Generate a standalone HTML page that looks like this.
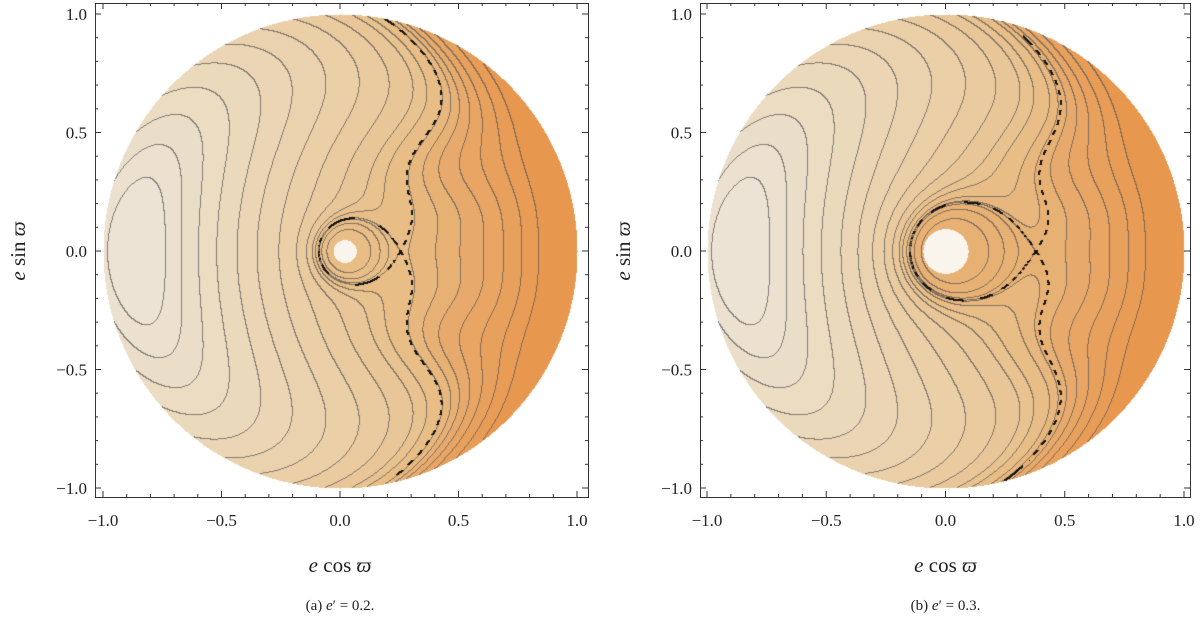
<!DOCTYPE html>
<html><head><meta charset="utf-8"><style>
body{margin:0;background:#fff;}
#wrap{position:relative;width:1200px;height:618px;overflow:hidden;}
canvas,svg{position:absolute;left:0;top:0;}
text{font-family:"Liberation Serif",serif;fill:#222;}
</style></head><body>
<div id="wrap">
<canvas id="cv" width="1200" height="618"></canvas>
<svg id="sv" width="1200" height="618"></svg>
</div>
<script>
// ---- data ----
const panelNames = ["panel-a", "panel-b"];
const captions = ["(a) e\u2032 = 0.2.", "(b) e\u2032 = 0.3."];
const ringAlpha = [0.9, 0.9];
const ringBeta = [1.0, 1.0];
const ringR0 = [0.7, 0.7];
const bumpAmp = [0.65, 0.7];
const bumpX = [0.02, 0.0];
const bumpS = [0.12, 0.2];
const waveAmp = [30, 26];
const waveX = [0.42, 0.48];
const coreFrac = [0.85, 0.8];
const levels = [-0.66, -0.6, -0.52, -0.42, -0.3, -0.18, -0.05, 0.08, 0.2, 0.3, 0.36, 0.43, 0.47, 0.51, 0.56, 0.62, 0.7, 0.8];
const islandRings = [0.02, 0.08, 0.2];
const tickVals = [-1.0, -0.5, 0.0, 0.5, 1.0];
const tickLabels = ["\u22121.0", "\u22120.5", "0.0", "0.5", "1.0"];

// ---- layout (not data) ----
const geo = [
  {cx:340, cy:251, ux:237, uy:237, fx0:95, fx1:588, fy0:3, fy1:497},
  {cx:945.5, cy:251, ux:238.5, uy:237, fx0:700, fx1:1190, fy0:3, fy1:497}
];
const stops = [[236,227,212],[235,218,190],[234,206,166],[232,190,136],[232,168,104],[232,151,79]];
function palette(t){
  t=Math.max(0,Math.min(1,t));const f=t*(stops.length-1);const i=Math.min(stops.length-2,Math.floor(f));const u=f-i;
  return stops[i].map((v,k)=>v+(stops[i+1][k]-v)*u);
}
function makeH(p){
  const a=ringAlpha[p],b=ringBeta[p],R2=ringR0[p]*ringR0[p],A=bumpAmp[p],xc=bumpX[p],s2=bumpS[p]*bumpS[p];
  const wa=waveAmp[p],wx=waveX[p];
  return {
    H:(x,y)=>{const r2=x*x+y*y;const y2=y*y;return a*x+b*(r2-R2)*(r2-R2)+A*Math.exp(-((x-xc)*(x-xc)+y2)/s2)
      +wa*y2*y2*Math.exp(-y2/0.08)*Math.exp(-(x-wx)*(x-wx)/0.15);},
    G:(x,y)=>Math.exp(-((x-xc)*(x-xc)+y*y)/s2)
  };
}
const cv=document.getElementById('cv');const ctx=cv.getContext('2d');
ctx.fillStyle='#fff';ctx.fillRect(0,0,1200,618);
const img=ctx.getImageData(0,0,1200,618);const D=img.data;
function bandOf(h){let i=0;while(i<levels.length&&h>levels[i])i++;return i;}
for(let p=0;p<2;p++){
  const g=geo[p];const f=makeH(p);
  let xs=0.5,Hs=0;let prev=null;
  for(let x=bumpX[p]+0.01;x<0.9;x+=0.001){const d=f.H(x+0.0005,0)-f.H(x-0.0005,0);if(prev!==null&&prev<0&&d>=0){xs=x;break;}prev=d;}
  Hs=f.H(xs,0);
  const W=g.fx1-g.fx0,Hh=g.fy1-g.fy0;
  const band=new Int16Array(W*Hh),sgn=new Int8Array(W*Hh),isl=new Int8Array(W*Hh),ins=new Uint8Array(W*Hh);
  for(let j=0;j<Hh;j++)for(let i=0;i<W;i++){
    const px=g.fx0+i,py=g.fy0+j;const x=(px-g.cx)/g.ux,y=(g.cy-py)/g.uy;const k=j*W+i;
    if(x*x+y*y>1){ins[k]=0;continue;}ins[k]=1;
    const h=f.H(x,y);sgn[k]=h>Hs?1:-1;
    const inIsl=h>Hs&&x<xs&&f.G(x,y)>0.005;isl[k]=inIsl?1:0;
    let bi=bandOf(inIsl?Math.min(h,Hs):h);
    if(inIsl){let r=0;for(const o of islandRings)if(h>Hs+o)r++;bi=100+r;}
    band[k]=bi;
  }
  const nb=levels.length;
  for(let j=0;j<Hh;j++)for(let i=0;i<W;i++){
    const k=j*W+i;if(!ins[k])continue;
    const px=g.fx0+i,py=g.fy0+j;const x=(px-g.cx)/g.ux,y=(g.cy-py)/g.uy;
    let c;
    if(isl[k]){c=palette(bandOf(Hs-1e-6)/nb);if(f.G(x,y)>coreFrac[p])c=[250,245,236];}
    else c=palette(band[k]/nb);
    let line=false;
    if(i+1<W&&ins[k+1]&&band[k+1]!==band[k])line=true;
    if(j+1<Hh&&ins[k+W]&&band[k+W]!==band[k])line=true;
    if(line)c=c.map(v=>v*0.3+85*0.7);
    let sep=false;
    const nbrs=[1,W,W+1,W-1,-1,-W];
    for(const o of nbrs){const q=k+o;if(q>=0&&q<W*Hh&&ins[q]&&sgn[q]!==sgn[k]){sep=true;break;}}
    if(sep){
      let t;
      if(x<xs-0.03){const ang=Math.atan2(y/(bumpS[p]*0.9),(x-bumpX[p]));t=Math.floor(ang*bumpS[p]*g.ux*1.6/5);}
      else t=Math.floor(py/5);
      if(((t%2)+2)%2===0)c=[20,20,20];
    }
    const o4=(py*1200+px)*4;D[o4]=c[0];D[o4+1]=c[1];D[o4+2]=c[2];D[o4+3]=255;
  }
}
ctx.putImageData(img,0,0);

// ---- axes ----
const sv=document.getElementById('sv');const NS='http://www.w3.org/2000/svg';
function el(t,a,parent){const e=document.createElementNS(NS,t);for(const k in a)e.setAttribute(k,a[k]);(parent||sv).appendChild(e);return e;}
for(let p=0;p<2;p++){
  const g=geo[p];
  const grp=el('g',{});
  
  
  const fr=el('rect',{x:g.fx0+0.5,y:g.fy0+0.5,width:g.fx1-g.fx0,height:g.fy1-g.fy0,fill:'none',stroke:'#333','stroke-width':1},grp);
  
  for(let m=-10;m<=10;m++){
    const v=m/10;const major=(m%5===0);const L=major?6:3;
    const X=g.cx+v*g.ux, Y=g.cy-v*g.uy;
    el('line',{x1:X,y1:g.fy1,x2:X,y2:g.fy1-L,stroke:'#333'},grp);
    el('line',{x1:X,y1:g.fy0,x2:X,y2:g.fy0+L,stroke:'#333'},grp);
    el('line',{x1:g.fx0,y1:Y,x2:g.fx0+L,y2:Y,stroke:'#333'},grp);
    el('line',{x1:g.fx1,y1:Y,x2:g.fx1-L,y2:Y,stroke:'#333'},grp);
  }
  tickVals.forEach((v,i)=>{
    const tx=el('text',{x:g.cx+v*g.ux,y:526,'text-anchor':'middle','font-size':17},grp);tx.textContent=tickLabels[i];
    
    const ty=el('text',{x:g.fx0-8,y:g.cy-v*g.uy+6,'text-anchor':'end','font-size':17},grp);ty.textContent=tickLabels[i];
    
  });
  const xt=el('text',{x:g.cx,y:572,'text-anchor':'middle','font-size':21},grp);
  xt.innerHTML='<tspan font-style="italic">e</tspan> cos <tspan font-style="italic">\u03D6</tspan>';
  
  const yx=g.fx0-70;
  const yt=el('text',{x:yx,y:g.cy,'text-anchor':'middle','font-size':21,transform:'rotate(-90 '+yx+' '+g.cy+')'},grp);
  yt.innerHTML='<tspan font-style="italic">e</tspan> sin <tspan font-style="italic">\u03D6</tspan>';
  
  const cp=el('text',{x:g.cx,y:610,'text-anchor':'middle','font-size':15},grp);
  cp.innerHTML=captions[p].replace('e\u2032','<tspan font-style="italic">e</tspan>\u2032');
  
}
</script>
</body></html>
